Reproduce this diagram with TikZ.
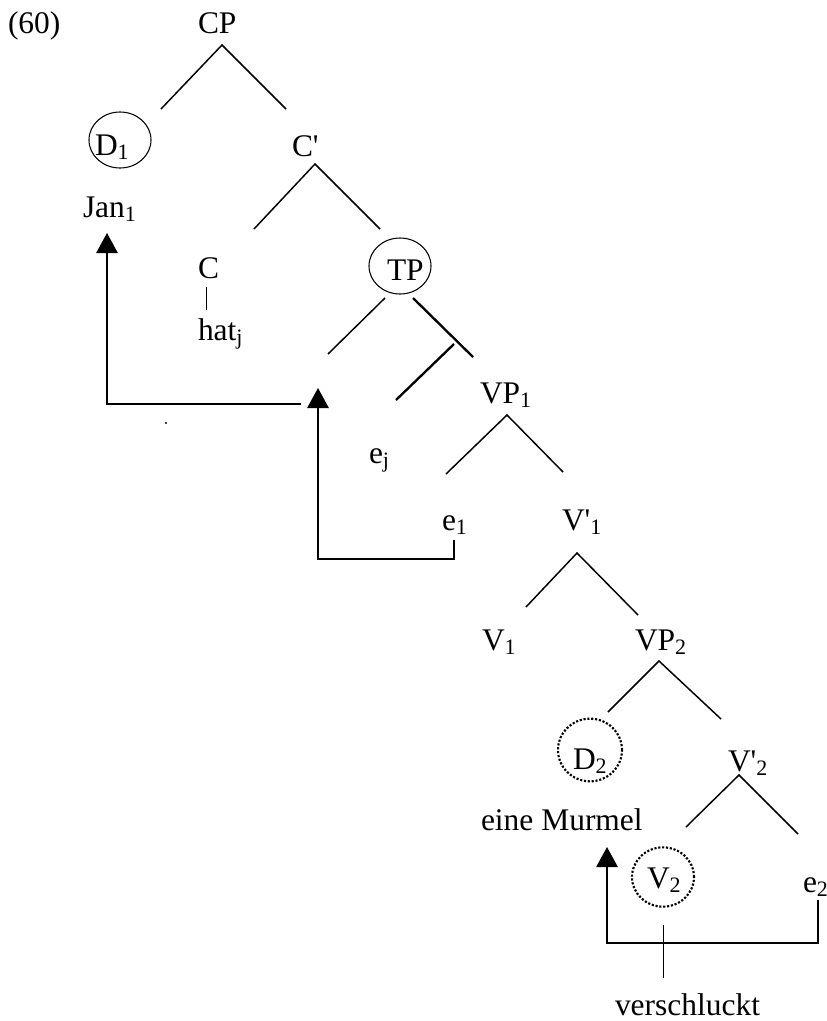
\documentclass[tikz,border=0pt]{standalone}
\usepackage{fontspec}
\setmainfont{Liberation Serif}
\usetikzlibrary{arrows.meta,shapes.geometric}
\newcommand\lowidx[1]{\raisebox{-3pt}{\fontsize{16.5}{16.5}\selectfont #1}}
\newcommand\pr{\textquotesingle}
\begin{document}
\begin{tikzpicture}[x=0.75pt,y=-0.75pt,
  lab/.style={anchor=base west,inner sep=0pt,outer sep=0pt,font=\fontsize{23.6}{28}\selectfont},
  branch/.style={line width=1.1pt,line cap=butt},
  heavy/.style={line width=1.75pt},
  stem/.style={line width=0.7pt},
  move/.style={line width=1.35pt,-{Triangle[width=16pt,length=15pt]}},
  ring/.style={draw,ellipse,line width=0.8pt,inner sep=0pt},
  dotring/.style={draw,ellipse,line width=1.6pt,dash pattern=on 1.6pt off 1.3pt,inner sep=0pt}]
\useasboundingbox (0,0) rectangle (827,1021);

% labels
\node[lab] (ex)   at (8,33)    {(60)};
\node[lab] (cp)   at (198,33)  {CP};
\node[lab] (d1)   at (95,155)  {D\lowidx{1}};
\node[lab] (cbar) at (292,156) {C\pr};
\node[lab] (jan)  at (83,217)  {Jan\lowidx{1}};
\node[lab] (c)    at (198,278) {C};
\node[lab] (hat)  at (198,340) {hat\lowidx{j}};
\node[lab] (tp)   at (387,280) {TP};
\node[lab] (ej)   at (369,463) {e\lowidx{j}};
\node[lab] (vp1)  at (480,403) {VP\lowidx{1}};
\node[lab] (e1)   at (442,530) {e\lowidx{1}};
\node[lab] (vb1)  at (562,530) {V\pr\lowidx{1}};
\node[lab] (v1)   at (482,650) {V\lowidx{1}};
\node[lab] (vp2)  at (635,650) {VP\lowidx{2}};
\node[lab] (d2)   at (573,769) {D\lowidx{2}};
\node[lab] (vb2)  at (728,771) {V\pr\lowidx{2}};
\node[lab] (obj)  at (481,830) {eine Murmel};
\node[lab] (v2)   at (647,888) {V\lowidx{2}};
\node[lab] (e2)   at (803,892) {e\lowidx{2}};
\node[lab] (verb) at (615,1015) {verschluckt};

% circled categories (sizes in pt: 1 unit = 0.75pt)
\node[ring,minimum width=46.5pt,minimum height=42pt] (d1ring) at (120,140) {};
\node[ring,minimum width=46.5pt,minimum height=42pt] (tpring) at (400,266) {};
\node[dotring,minimum width=48pt,minimum height=47pt] (d2ring) at (590,750) {};
\node[dotring,minimum width=46.5pt,minimum height=44.5pt] (v2ring) at (663,877) {};

% branch points
\coordinate (cpA) at (222,45);  \coordinate (cpL) at (161,109); \coordinate (cpR) at (286,109);
\coordinate (cbA) at (315,164); \coordinate (cbL) at (254,229); \coordinate (cbR) at (380,229);
\coordinate (tpL1) at (385,298); \coordinate (tpL2) at (328,354);
\coordinate (tpR1) at (413,298); \coordinate (tpR2) at (473,357);
\coordinate (tpM1) at (454,344); \coordinate (tpM2) at (396,400);
\coordinate (vpA) at (507,415); \coordinate (vpL) at (446,474); \coordinate (vpR) at (563,472);
\coordinate (v1A) at (577,553); \coordinate (v1L) at (526,607); \coordinate (v1R) at (638,615);
\coordinate (p2A) at (659,661); \coordinate (p2L) at (608,712); \coordinate (p2R) at (721,719);
\coordinate (v2A) at (739,775); \coordinate (v2L) at (686,827); \coordinate (v2R) at (798,834);
\coordinate (hatT) at (206,287); \coordinate (hatB) at (206,310);
\coordinate (verbT) at (663,925); \coordinate (verbB) at (663,978);

\draw[branch] (cpL) -- (cpA) -- (cpR);
\draw[branch] (cbL) -- (cbA) -- (cbR);
\draw[branch] (tpL1) -- (tpL2);
\draw[heavy] (tpR1) -- (tpR2);
\draw[heavy] (tpM1) -- (tpM2);
\draw[branch] (vpL) -- (vpA) -- (vpR);
\draw[branch] (v1L) -- (v1A) -- (v1R);
\draw[branch] (p2L) -- (p2A) -- (p2R);
\draw[branch] (v2L) -- (v2A) -- (v2R);
\draw[stem] (hatT) -- (hatB);
\draw[stem] (verbT) -- (verbB);

% movement arrows
\coordinate (m1s) at (301,404); \coordinate (m1c) at (107,404); \coordinate (m1t) at (107,233);
\coordinate (m2s) at (454,540); \coordinate (m2a) at (454,559); \coordinate (m2b) at (318,559); \coordinate (m2t) at (318,388);
\coordinate (m3s) at (818,900); \coordinate (m3a) at (818,943); \coordinate (m3b) at (607,943); \coordinate (m3t) at (607,847);
\draw[move] (m1s) -- (m1c) -- (m1t);
\draw[move] (m2s) -- (m2a) -- (m2b) -- (m2t);
\draw[move] (m3s) -- (m3a) -- (m3b) -- (m3t);

% stray point
\coordinate (speck) at (166,423);
\fill (speck) circle[radius=0.9pt];
\end{tikzpicture}
\end{document}
